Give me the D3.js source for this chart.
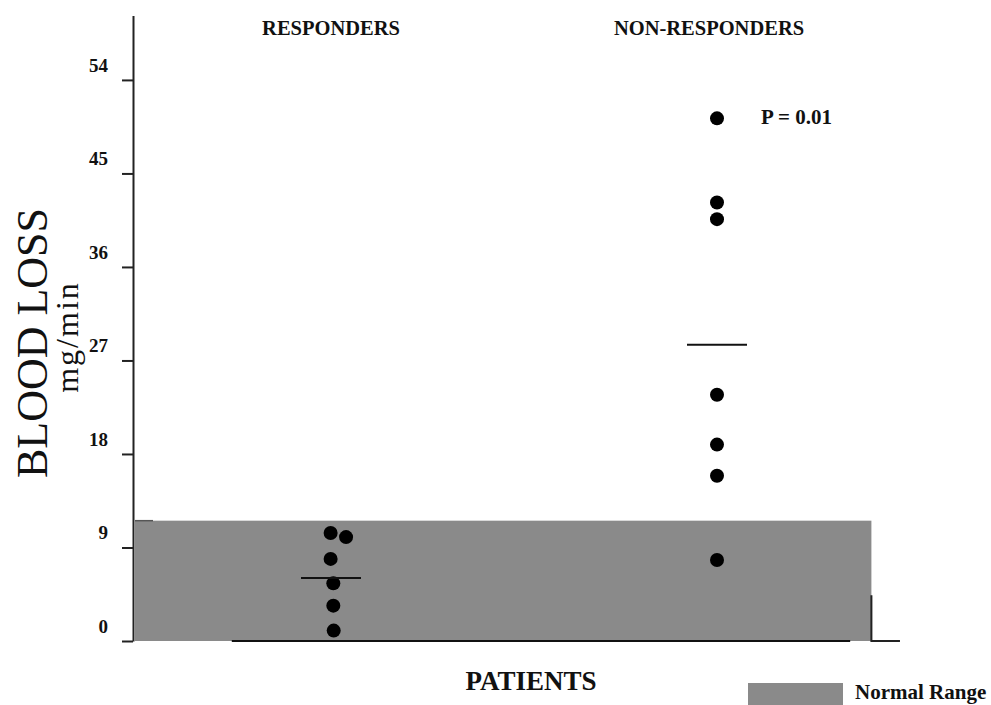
<!DOCTYPE html>
<html><head><meta charset="utf-8">
<script src="https://cdn.jsdelivr.net/npm/d3@7"></script>
<style>body{margin:0;background:#fff}svg{display:block}</style>
</head><body>
<svg id="c" width="991" height="705"></svg>
<script>
const groups = ["RESPONDERS", "NON-RESPONDERS"];
const groupPos = [1, 2];
const responders = [
  {g: 0.999, v: 10.4}, {g: 1.039, v: 10.0}, {g: 0.999, v: 7.9},
  {g: 1.006, v: 5.55}, {g: 1.006, v: 3.4}, {g: 1.007, v: 1.0}
];
const nonResponders = [
  {g: 2, v: 50.3}, {g: 2, v: 42.2}, {g: 2, v: 40.6}, {g: 2, v: 23.7},
  {g: 2, v: 18.9}, {g: 2, v: 15.9}, {g: 2, v: 7.8}
];
const means = [6.06, 28.5];
const normalRange = [0, 11.58];
const yTicks = [0, 9, 18, 27, 36, 45, 54];
const pLabel = "P = 0.01";

const svg = d3.select("#c");
const serif = "'Liberation Serif','DejaVu Serif',serif";
const y = d3.scaleLinear().domain([0, 60.2]).range([641, 15.5]);
const x = d3.scaleLinear().domain([0.5, 2.5]).range([138, 910]);
const axisX = 133;
const grey = "#8a8a8a";
const labelShift = [0, -8];

// normal range band
svg.append("rect")
  .attr("x", axisX + 2).attr("y", y(normalRange[1]))
  .attr("width", x(2.4) - axisX - 2).attr("height", y(normalRange[0]) - y(normalRange[1]))
  .attr("fill", grey);
svg.append("line").attr("x1", axisX + 2).attr("x2", axisX + 20)
  .attr("y1", y(normalRange[1])).attr("y2", y(normalRange[1]))
  .attr("stroke", "#555").attr("stroke-width", 1.5);

// y axis
const ya = svg.append("g").attr("transform", `translate(${axisX},0)`)
  .call(d3.axisLeft(y).tickValues(yTicks).tickSize(11).tickSizeOuter(0).tickPadding(14));
ya.select(".domain").attr("stroke", "#222").attr("stroke-width", 2);
ya.selectAll(".tick line").attr("stroke", "#222").attr("stroke-width", 2);
ya.selectAll(".tick text").attr("font-family", serif).attr("font-weight", "bold")
  .attr("font-size", 19).attr("fill", "#111").attr("dy", "-0.45em");

// bottom lines
svg.append("line").attr("x1", x(0.743)).attr("x2", x(2.345))
  .attr("y1", y(0)).attr("y2", y(0)).attr("stroke", "#111").attr("stroke-width", 2);
svg.append("path")
  .attr("d", `M${x(2.4)},${y(4.4)}V${y(0)}H${x(2.474)}`)
  .attr("fill", "none").attr("stroke", "#222").attr("stroke-width", 2);

// group labels
svg.selectAll(".glab").data(groups).join("text")
  .attr("x", (d, i) => x(groupPos[i]) + labelShift[i]).attr("y", 35)
  .attr("text-anchor", "middle").attr("font-family", serif).attr("font-weight", "bold")
  .attr("font-size", 20.5).attr("fill", "#111").text(d => d);

// dots
svg.selectAll(".dot").data(responders.concat(nonResponders)).join("circle")
  .attr("cx", d => x(d.g)).attr("cy", d => y(d.v)).attr("r", 7).attr("fill", "#000");

// means
svg.selectAll(".mean").data(means).join("line")
  .attr("x1", (d, i) => x(groupPos[i]) - 30).attr("x2", (d, i) => x(groupPos[i]) + 30)
  .attr("y1", d => y(d)).attr("y2", d => y(d))
  .attr("stroke", "#111").attr("stroke-width", 2);

// p value
svg.append("text").attr("x", x(2.114)).attr("y", y(50.3) + 6)
  .attr("font-family", serif).attr("font-weight", "bold").attr("font-size", 21)
  .attr("fill", "#111").text(pLabel);

// y title
svg.append("text").attr("transform", `translate(47,343) rotate(-90)`)
  .attr("text-anchor", "middle").attr("font-family", serif).attr("font-size", 44)
  .attr("fill", "#111").text("BLOOD LOSS");
svg.append("text").attr("transform", `translate(78,337) rotate(-90)`)
  .attr("text-anchor", "middle").attr("font-family", serif).attr("font-size", 32)
  .attr("letter-spacing", 2).attr("fill", "#111").text("mg/min");

// x title
svg.append("text").attr("x", 531).attr("y", 690).attr("text-anchor", "middle")
  .attr("font-family", serif).attr("font-weight", "bold").attr("font-size", 27).attr("fill", "#111").text("PATIENTS");

// legend
svg.append("rect").attr("x", 748).attr("y", 683).attr("width", 95).attr("height", 22).attr("fill", grey);
svg.append("text").attr("x", 855).attr("y", 699).attr("font-family", serif).attr("font-weight", "bold")
  .attr("font-size", 21).attr("fill", "#111").text("Normal Range");
</script>
</body></html>
